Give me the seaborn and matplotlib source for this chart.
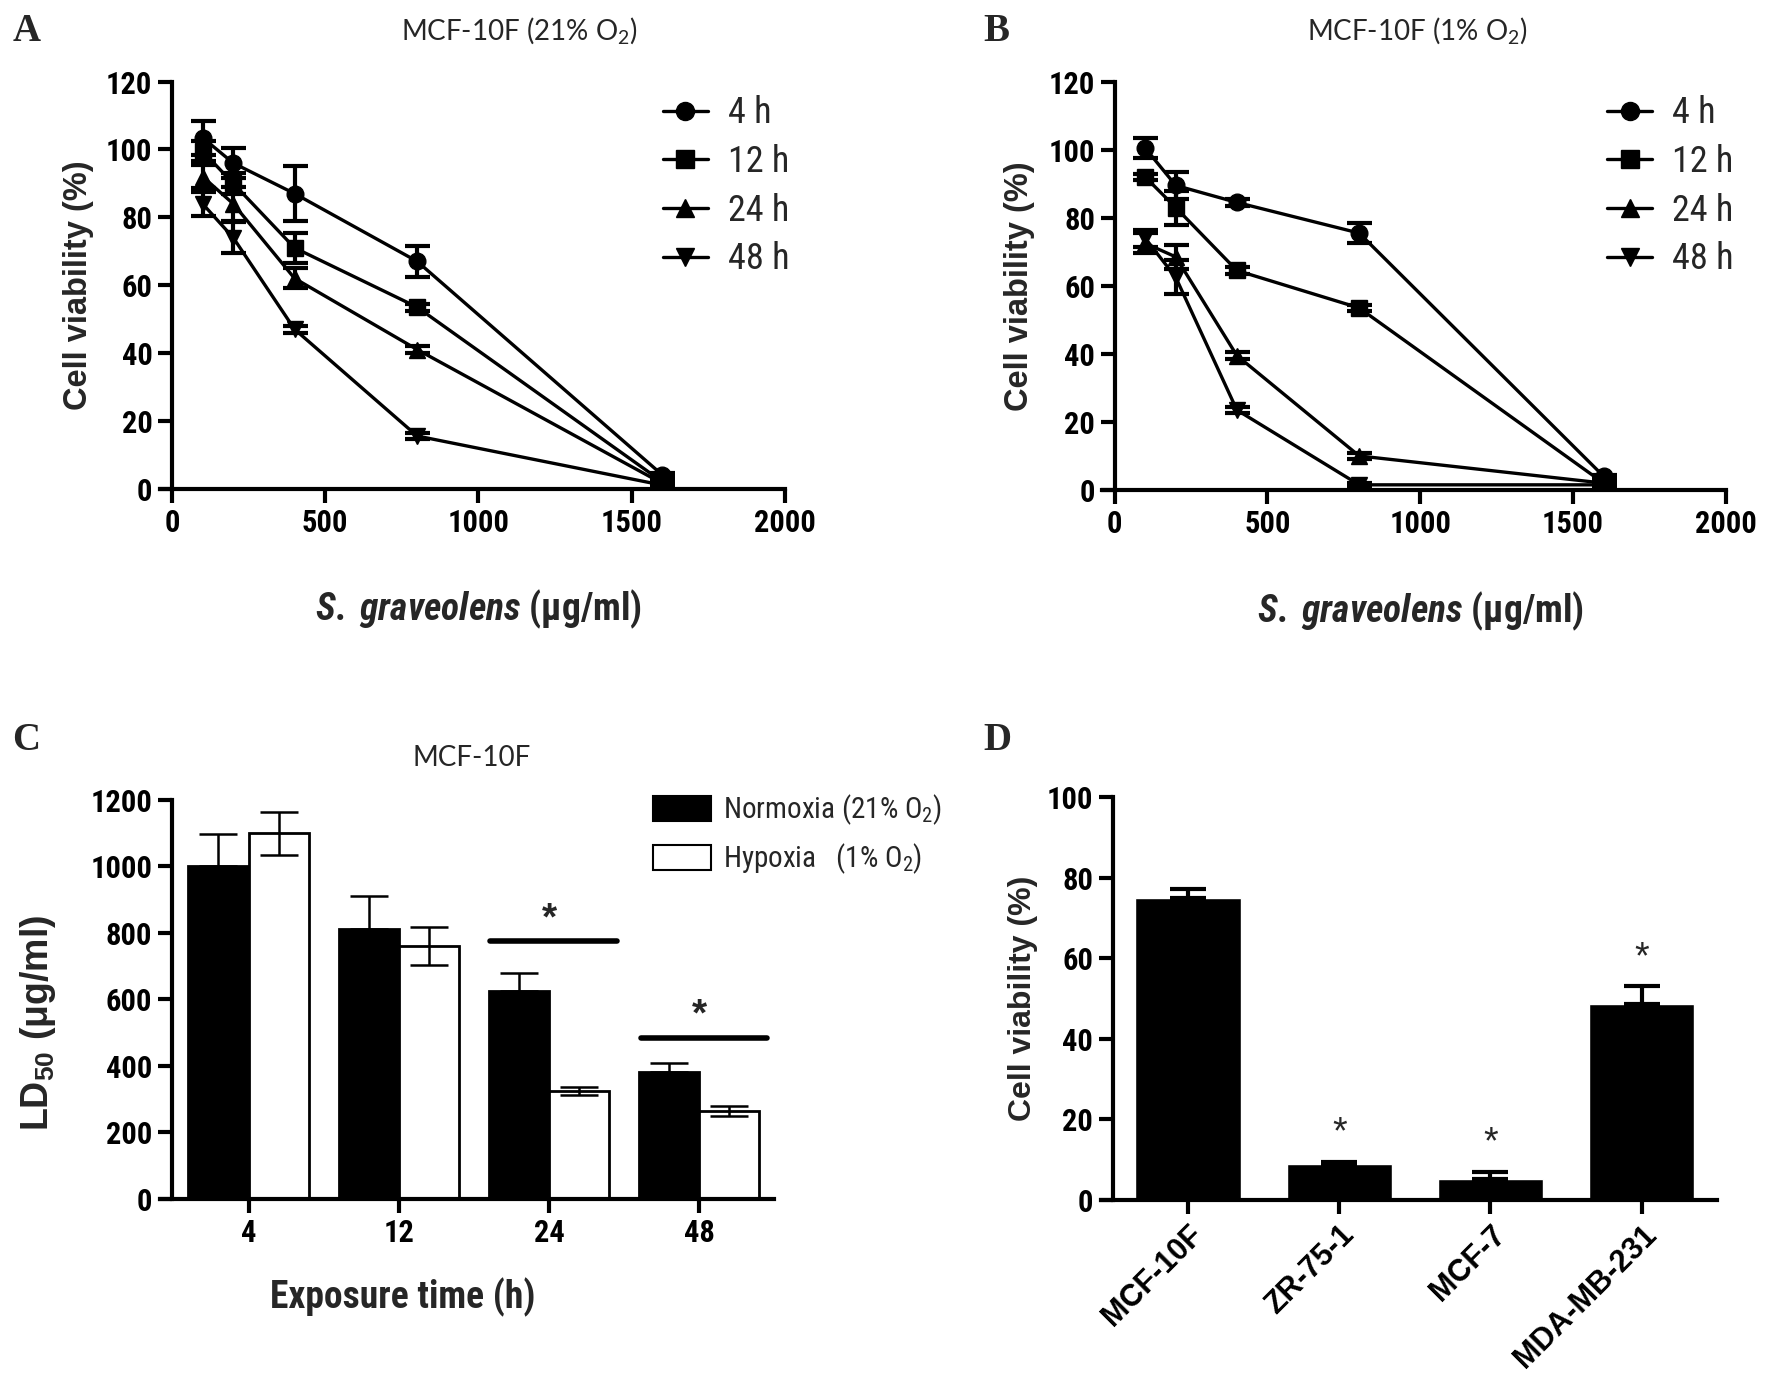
import matplotlib
matplotlib.use("Agg")
import matplotlib.pyplot as plt
from matplotlib import font_manager
from matplotlib.lines import Line2D
from matplotlib.patches import Patch
import numpy as np
import pandas as pd
import seaborn as sns

# ---------------- data ----------------
conc = [100, 200, 400, 800, 1600]
time_labels = ["4 h", "12 h", "24 h", "48 h"]

a_4h = [103.5, 96.0, 87.0, 67.0, 4.0]
a_12h = [99.5, 90.0, 71.0, 53.5, 2.0]
a_24h = [92.0, 84.0, 62.0, 41.0, 1.5]
a_48h = [84.0, 74.0, 47.0, 15.5, 1.0]
a_4h_err = [5.0, 4.5, 8.0, 4.5, 0.5]
a_12h_err = [3.0, 3.0, 4.5, 1.0, 0.5]
a_24h_err = [3.5, 5.0, 3.0, 1.0, 0.5]
a_48h_err = [3.5, 4.5, 1.0, 1.0, 0.5]

b_4h = [100.5, 89.5, 84.5, 75.5, 4.0]
b_12h = [92.0, 83.0, 64.5, 53.5, 2.0]
b_24h = [72.5, 68.5, 39.5, 10.0, 2.0]
b_48h = [74.0, 62.5, 23.5, 1.5, 1.5]
b_4h_err = [3.0, 4.0, 1.0, 3.0, 0.5]
b_12h_err = [1.0, 5.0, 1.0, 1.0, 0.5]
b_24h_err = [3.0, 3.5, 1.0, 1.0, 0.5]
b_48h_err = [2.5, 5.0, 1.0, 0.5, 0.5]

exposure = ["4", "12", "24", "48"]
conditions = ["Normoxia (21% O$_2$)", "Hypoxia   (1% O$_2$)"]
ld50_normoxia = [1000, 810, 625, 380]
ld50_normoxia_err = [97, 100, 53, 27]
ld50_hypoxia = [1100, 760, 325, 263]
ld50_hypoxia_err = [65, 57, 12, 15]
sig_groups = [2, 3]
sig_line_y = [775, 484]

cell_lines = ["MCF-10F", "ZR-75-1", "MCF-7", "MDA-MB-231"]
viability_d = [75.0, 9.0, 5.2, 48.7]
viability_d_err = [2.2, 0.5, 1.8, 4.3]
sig_d = [False, True, True, True]

# ---------------- fonts ----------------
sns.set_theme(style="ticks")
names = {f.name for f in font_manager.fontManager.ttflist}
def pick(*cands):
    for c in cands:
        if c in names:
            return c
    return "DejaVu Sans"
NARROW = pick("Liberation Sans Narrow", "Roboto Condensed", "Open Sans Condensed", "Liberation Sans")
ARIAL = pick("Liberation Sans", "Arimo", "DejaVu Sans")
TITLEF = pick("Lato", "Open Sans", "Noto Sans")
SERIF = pick("Liberation Serif", "DejaVu Serif")
plt.rcParams["font.family"] = [NARROW, "DejaVu Sans"]
plt.rcParams["mathtext.default"] = "regular"
plt.rcParams["mathtext.fontset"] = "custom"
plt.rcParams["mathtext.it"] = f"{NARROW}:italic:bold"
plt.rcParams["mathtext.rm"] = f"{NARROW}:bold"
plt.rcParams["mathtext.bf"] = f"{NARROW}:bold"

fig = plt.figure(figsize=(17.72, 13.84), dpi=100)
fig.patch.set_facecolor("white")

TICK_FS = 22
SPINE_W = 3


def style_axes(ax, overhang):
    for s in ["top", "right"]:
        ax.spines[s].set_visible(False)
    for s in ["left", "bottom"]:
        ax.spines[s].set_linewidth(SPINE_W)
        ax.spines[s].set_color("black")
    x0, x1 = ax.get_xlim()
    ax.spines["bottom"].set_bounds(x0 - overhang, x1)
    ax.tick_params(direction="out", length=10, width=SPINE_W, colors="black",
                   labelsize=TICK_FS, pad=4)
    for lab in ax.get_xticklabels() + ax.get_yticklabels():
        lab.set_fontweight("bold")
        lab.set_family([NARROW, "DejaVu Sans"])
    ax.set_facecolor("white")
    ax.grid(False)


markers = ["o", "s", "^", "v"]


def line_panel(ax, series, errs, title_x, title, leg_x):
    rows = []
    for t, vals in zip(time_labels, series):
        for c, v in zip(conc, vals):
            rows.append({"conc": c, "viab": v, "time": t})
    df = pd.DataFrame(rows)
    for vals, e in zip(series, errs):
        ax.errorbar(conc, vals, yerr=e, fmt="none", ecolor="black",
                    elinewidth=3, capsize=9, capthick=3, zorder=2)
    sns.lineplot(data=df, x="conc", y="viab", style="time", markers=markers,
                 dashes=False, color="black", linewidth=2.4, markersize=12,
                 markeredgecolor="black", markeredgewidth=1, ax=ax,
                 legend=False, zorder=3)
    ax.set_xlim(0, 2000)
    ax.set_ylim(0, 120)
    ax.set_xticks([0, 500, 1000, 1500, 2000])
    ax.set_yticks(np.arange(0, 121, 20))
    style_axes(ax, 40)
    ax.set_xlabel(r"$\mathit{S.}$ $\mathit{graveolens}$ ($\mathrm{\mu}$g/ml)",
                  fontsize=27, fontweight="bold",
                  family=[NARROW, "DejaVu Sans"])
    ax.xaxis.label.set_va("center")
    ax.xaxis.set_label_coords(0.5, -0.297)
    ax.set_ylabel("Cell viability (%)", fontsize=23.5, fontweight="bold",
                  family=[ARIAL, "DejaVu Sans"])
    ax.yaxis.label.set_va("center")
    ax.yaxis.set_label_coords(-0.152, 0.5)
    fig.text(title_x, 0.978, title, ha="center", va="center", fontsize=20,
             family=[TITLEF, "DejaVu Sans"])
    handles = [Line2D([], [], color="black", lw=2.4, marker=m, markersize=13)
               for m in markers]
    ax.legend(handles, time_labels, loc="upper left",
              bbox_to_anchor=(leg_x, 0.931), bbox_transform=fig.transFigure,
              frameon=False, handlelength=1.25, handletextpad=0.55,
              labelspacing=0.35, borderpad=0, borderaxespad=0,
              prop={"family": [NARROW, "DejaVu Sans"], "size": 26})


# ---- Panel A ----
axA = fig.add_axes([0.097, 0.647, 0.346, 0.294])
line_panel(axA, [a_4h, a_12h, a_24h, a_48h],
           [a_4h_err, a_12h_err, a_24h_err, a_48h_err],
           0.293, "MCF-10F (21% O$_2$)", 0.374)

# ---- Panel B ----
axB = fig.add_axes([0.629, 0.646, 0.345, 0.295])
line_panel(axB, [b_4h, b_12h, b_24h, b_48h],
           [b_4h_err, b_12h_err, b_24h_err, b_48h_err],
           0.800, "MCF-10F (1% O$_2$)", 0.907)
axB.yaxis.set_label_coords(-0.155, 0.5)

# ---- Panel C ----
axC = fig.add_axes([0.097, 0.134, 0.340, 0.288])
dfc = pd.DataFrame({
    "time": exposure * 2,
    "ld50": ld50_normoxia + ld50_hypoxia,
    "cond": [conditions[0]] * 4 + [conditions[1]] * 4,
})
sns.barplot(data=dfc, x="time", y="ld50", hue="cond", order=exposure,
            hue_order=conditions, palette=["black", "white"], saturation=1,
            edgecolor="black", linewidth=2, width=0.8, errorbar=None,
            legend=False, ax=axC)
for cont, vals, errs, lower in zip(axC.containers,
                                   [ld50_normoxia, ld50_hypoxia],
                                   [ld50_normoxia_err, ld50_hypoxia_err],
                                   [False, True]):
    xs = [p.get_x() + p.get_width() / 2 for p in cont.patches]
    yerr = [errs if lower else [0] * len(errs), errs]
    axC.errorbar(xs, vals, yerr=yerr, fmt="none", ecolor="black",
                 elinewidth=1.8, capsize=14, capthick=1.8, zorder=3)
for g, y in zip(sig_groups, sig_line_y):
    axC.plot([g - 0.39, g + 0.45], [y, y], color="black", lw=4,
             solid_capstyle="round")
    axC.text(g, y + 12, "*", ha="center", va="bottom", fontsize=28,
             fontweight="bold", family=[ARIAL, "DejaVu Sans"])
axC.set_xlim(-0.51, 3.5)
axC.set_ylim(0, 1200)
axC.set_yticks(np.arange(0, 1201, 200))
style_axes(axC, 0.08)
axC.set_xlabel("Exposure time (h)", fontsize=27, fontweight="bold")
axC.xaxis.label.set_va("center")
axC.xaxis.set_label_coords(0.383, -0.248)
axC.set_ylabel("LD$_{50}$ (μg/ml)", fontsize=27, fontweight="bold",
               family=[ARIAL, "DejaVu Sans"])
axC.yaxis.label.set_va("center")
axC.yaxis.set_label_coords(-0.222, 0.44)
fig.text(0.266, 0.452, "MCF-10F", ha="center", va="center", fontsize=20,
         family=[TITLEF, "DejaVu Sans"])
handlesC = [Patch(facecolor="black", edgecolor="black", lw=1.5),
            Patch(facecolor="white", edgecolor="black", lw=1.5)]
axC.legend(handlesC, conditions, loc="upper left", bbox_to_anchor=(0.3685, 0.4275),
           bbox_transform=fig.transFigure, frameon=False,
           prop={"family": [NARROW, "DejaVu Sans"], "size": 21},
           handlelength=2.0, handleheight=0.95, handletextpad=0.4,
           labelspacing=0.5, borderpad=0, borderaxespad=0)

# ---- Panel D ----
axD = fig.add_axes([0.628, 0.133, 0.341, 0.291])
dfd = pd.DataFrame({"line": cell_lines, "viab": viability_d})
sns.barplot(data=dfd, x="line", y="viab", color="black", saturation=1,
            width=0.7, errorbar=None, ax=axD)
xsD = [p.get_x() + p.get_width() / 2 for p in axD.patches]
axD.errorbar(xsD, viability_d, yerr=[[0] * 4, viability_d_err], fmt="none",
             ecolor="black", elinewidth=3, capsize=13, capthick=3, zorder=3)
for x, v, e, s in zip(xsD, viability_d, viability_d_err, sig_d):
    if s:
        axD.text(x, v + e + 7, "*", ha="center", va="center", fontsize=27,
                 family=[ARIAL, "DejaVu Sans"])
axD.set_xlim(-0.5, 3.5)
axD.set_ylim(0, 100)
axD.set_yticks(np.arange(0, 101, 20))
style_axes(axD, 0.08)
axD.set_xlabel("")
for lab in axD.get_xticklabels():
    lab.set_rotation(45)
    lab.set_ha("right")
    lab.set_rotation_mode("anchor")
    lab.set_family([ARIAL, "DejaVu Sans"])
    lab.set_fontsize(22)
axD.set_ylabel("Cell viability (%)", fontsize=23, fontweight="bold",
               family=[ARIAL, "DejaVu Sans"])
axD.yaxis.label.set_va("center")
axD.yaxis.set_label_coords(-0.149, 0.5)

# ---- panel letters ----
for x, y, L in [(0.007, 0.977, "A"), (0.555, 0.977, "B"),
                (0.007, 0.465, "C"), (0.555, 0.465, "D")]:
    fig.text(x, y, L, ha="left", va="center", fontsize=28, fontweight="bold",
             family=[SERIF, "DejaVu Serif"])

fig.savefig("out.png", dpi=100, facecolor="white")
